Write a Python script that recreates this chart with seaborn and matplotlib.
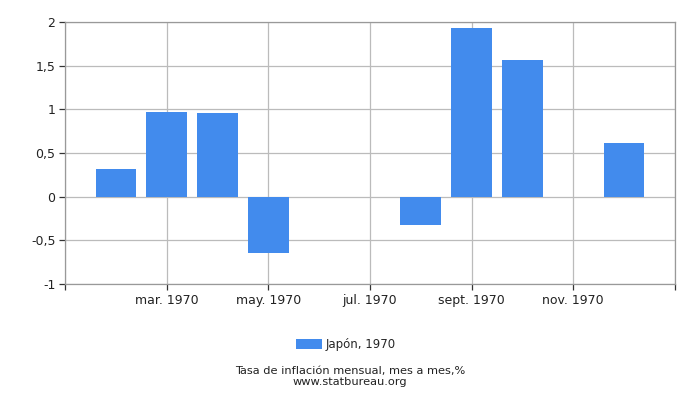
import seaborn as sns
import pandas as pd
import matplotlib.pyplot as plt

# monthly inflation, Japan 1970 (Feb..Dec), month index 1 = Feb
months = [1, 2, 3, 4, 5, 6, 7, 8, 9, 10, 11]
values = [0.32, 0.97, 0.96, -0.64, 0.0, 0.0, -0.32, 1.93, 1.57, 0.0, 0.61]
tick_pos = [0, 2, 4, 6, 8, 10, 12]
tick_labels = ['', 'mar. 1970', 'may. 1970', 'jul. 1970', 'sept. 1970', 'nov. 1970', '']
y_ticks = [-1, -0.5, 0, 0.5, 1, 1.5, 2]
y_labels = ['-1', '-0,5', '0', '0,5', '1', '1,5', '2']

df = pd.DataFrame({'month': months, 'value': values, 'serie': 'Japón, 1970'})

sns.set_style('white')
plt.rcParams['font.family'] = ['DejaVu Sans']

fig = plt.figure(figsize=(7, 4), dpi=100)
ax = fig.add_axes([0.093, 0.29, 0.871, 0.655])

sns.barplot(data=df, x='month', y='value', hue='serie', palette=['#428bed'],
            native_scale=True, width=0.8, saturation=1, ax=ax, zorder=3,
            edgecolor='none', linewidth=0)

ax.set_xlim(0, 12)
ax.set_ylim(-1, 2)
ax.set_xticks(tick_pos)
ax.set_xticklabels(tick_labels, fontsize=9, color='#222222')
ax.set_yticks(y_ticks)
ax.set_yticklabels(y_labels, fontsize=9, color='#222222')
ax.set_xlabel('')
ax.set_ylabel('')
ax.grid(True, color='#bbbbbb', linewidth=0.9, zorder=0)
ax.set_axisbelow(True)
for s in ax.spines.values():
    s.set_color('#999999')
    s.set_linewidth(0.9)
ax.tick_params(axis='both', bottom=True, left=True, length=4, width=0.9,
               color='#333333', direction='out', pad=3)

ax.legend(loc='upper center', bbox_to_anchor=(0.46, -0.165), frameon=False,
          fontsize=8.5, handlelength=2.2, handleheight=0.9, handletextpad=0.3)

fig.text(0.5, 0.066, 'Tasa de inflación mensual, mes a mes,%', ha='center', fontsize=8.2,
         color='#222222')
fig.text(0.5, 0.037, 'www.statbureau.org', ha='center', fontsize=8.2, color='#222222')

fig.savefig('out.png', dpi=100)
